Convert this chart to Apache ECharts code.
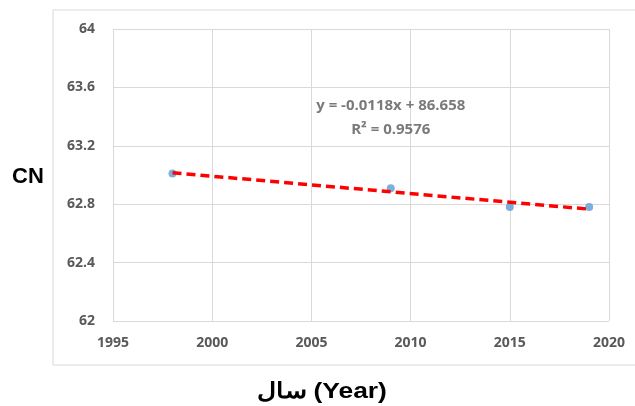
<!DOCTYPE html>
<html><head><meta charset="utf-8">
<script src="https://cdn.jsdelivr.net/npm/echarts@6/dist/echarts.min.js"></script>
<style>html,body{margin:0;padding:0;background:#fff}#c{width:635px;height:406px}</style>
</head><body><div id="c"></div>
<script>
const years = [1998, 2009, 2015, 2019];
const cnValues = [63.01, 62.91, 62.78, 62.78];
const xTicks = [1995, 2000, 2005, 2010, 2015, 2020];
const yTicks = [62, 62.4, 62.8, 63.2, 63.6, 64];
const equationText = 'y = -0.0118x + 86.658';
const r2Text = 'R² = 0.9576';

// least-squares trendline from the data
const n = years.length;
const mx = years.reduce((a,b)=>a+b,0)/n;
const my = cnValues.reduce((a,b)=>a+b,0)/n;
let sxy=0, sxx=0;
for (let i=0;i<n;i++){ sxy += (years[i]-mx)*(cnValues[i]-my); sxx += (years[i]-mx)**2; }
const slope = sxy/sxx, icpt = my - slope*mx;
const trend = [years[0], years[n-1]].map(x => [x, icpt + slope*x]);

const chart = echarts.init(document.getElementById('c'));
const lab = {color:'#595959', fontSize:14, fontWeight:'bold', fontFamily:'Open Sans'};
chart.setOption({
  animation:false,
  grid:{left:113, right:26, top:29, bottom:85},
  graphic:[
    {type:'rect', shape:{x:53, y:10, width:590, height:355}, style:{fill:'none', stroke:'#d9d9d9', lineWidth:1}, z:-1},
    {type:'text', x:12, y:166, style:{text:'CN', fontSize:22, fontWeight:'bold', fill:'#000', fontFamily:'Liberation Sans'}},
    {type:'text', x:257, y:381, scaleX:1.2, style:{text:'سال (Year)', fontSize:22, fontWeight:'bold', fill:'#000', fontFamily:'Liberation Sans'}}
  ],
  xAxis:{type:'value', min:xTicks[0], max:xTicks[xTicks.length-1], interval:5,
    axisLine:{show:false}, axisTick:{show:false},
    splitLine:{show:true, lineStyle:{color:'#d9d9d9'}},
    axisLabel:Object.assign({margin:15, formatter:v=>String(v)}, lab)},
  yAxis:{type:'value', min:yTicks[0], max:yTicks[yTicks.length-1], interval:0.4,
    axisLine:{show:false}, axisTick:{show:false},
    splitLine:{show:true, lineStyle:{color:'#d9d9d9'}},
    axisLabel:Object.assign({margin:18, formatter:v=>String(+v.toFixed(1))}, lab)},
  series:[
    {type:'line', data:trend, symbol:'none', lineStyle:{color:'#ff0000', width:3.5, type:[9,5]}, z:3},
    {type:'scatter', data:years.map((y,i)=>[y,cnValues[i]]), symbolSize:8, itemStyle:{color:'#5b9bd5'}, z:2},
    {type:'scatter', data:[[2009, 63.39]], symbolSize:0, silent:true,
      label:{show:true, position:'inside', formatter:equationText+'\n'+r2Text, color:'#595959', fontSize:15, fontWeight:'bold', fontFamily:'Open Sans', lineHeight:24, align:'center'}}
  ]
});
</script></body></html>
